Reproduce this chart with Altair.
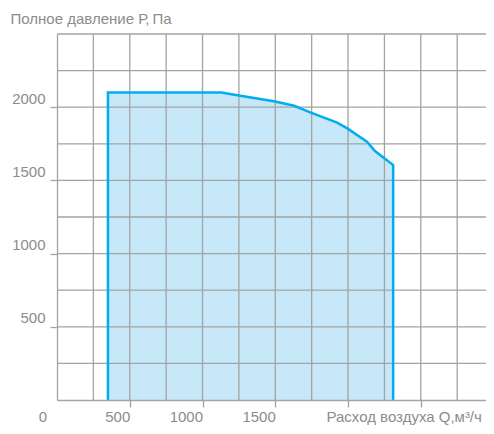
import altair as alt
import pandas as pd

# Curve (boundary of the working area)
Q = [350, 1130, 1250, 1490, 1630, 1740, 1925, 1995, 2130, 2185, 2245, 2310]
P = [2100, 2100, 2080, 2040, 2010, 1965, 1895, 1855, 1765, 1700, 1655, 1605]

x_ticks = [500, 1000, 1500, 2000, 2500]
x_labels = [500, 1000, 1500]
y_ticks = [500, 1000, 1500, 2000]
x_grid = [250, 500, 750, 1000, 1250, 1500, 1750, 2000, 2250, 2500, 2750, 3000]
y_grid = [250, 500, 750, 1000, 1250, 1500, 1750, 2000, 2250, 2500]

X_TITLE = "Расход воздуха Q,м³/ч"
Y_TITLE = "Полное давление Р,\u2009Па"

GRAY = "#a3a3a3"
TXT = "#8c8c8c"
FONT = "Liberation Sans"
FS = 15

area_df = pd.DataFrame({"Q": Q, "P": P})
line_df = pd.DataFrame({
    "Q": [Q[0]] + Q + [Q[-1]],
    "P": [0] + P + [0],
})
line_df["i"] = range(len(line_df))
xg_df = pd.DataFrame({"Q": x_grid})
yg_df = pd.DataFrame({"P": y_grid})
zero_df = pd.DataFrame({"Q": [0], "P": [0], "t": ["0"]})

xs = alt.Scale(domain=[0, 2948], nice=False, zero=True)
ys = alt.Scale(domain=[0, 2500], nice=False, zero=True)

label_expr = "indexof([" + ",".join(str(v) for v in x_labels) + "], datum.value) >= 0 ? datum.value : ''"

x_axis = alt.Axis(
    values=x_ticks, grid=False, labelExpr=label_expr,
    labelAlign="right", labelBaseline="alphabetic", labelPadding=14.5,
    tickSize=7, tickColor=GRAY, tickWidth=1.3,
    domainColor=GRAY, domainWidth=1.3,
    labelFont=FONT, labelFontSize=FS, labelColor=TXT,
    title=X_TITLE, titleX=269, titleY=21.5, titleAlign="left",
    titleBaseline="alphabetic", titleFont=FONT, titleFontSize=FS,
    titleFontWeight="normal", titleColor=TXT, zindex=1,
)
y_axis = alt.Axis(
    values=y_ticks, grid=False, format="d",
    labelAlign="right", labelBaseline="alphabetic", labelOffset=-4, labelPadding=5,
    tickSize=7, tickColor=GRAY, tickWidth=1.3,
    domainColor=GRAY, domainWidth=1.3,
    labelFont=FONT, labelFontSize=FS, labelColor=TXT,
    title=Y_TITLE, titleAngle=0, titleX=-47, titleY=-11, titleAlign="left",
    titleBaseline="alphabetic", titleFont=FONT, titleFontSize=FS,
    titleFontWeight="normal", titleColor=TXT, zindex=1,
)

X = alt.X("Q:Q", scale=xs, axis=x_axis)
Y = alt.Y("P:Q", scale=ys, axis=y_axis)

area = alt.Chart(area_df).mark_area(color="#c6e8f8", opacity=1).encode(x=X, y=Y)

vgrid = alt.Chart(xg_df).mark_rule(color=GRAY, strokeWidth=1.3).encode(x=X)
hgrid = alt.Chart(yg_df).mark_rule(color=GRAY, strokeWidth=1.3).encode(y=Y)

line = alt.Chart(line_df).mark_line(color="#00aeef", strokeWidth=2.5, strokeJoin="miter").encode(
    x=X, y=Y, order="i:Q",
)

zero = alt.Chart(zero_df).mark_text(
    align="right", baseline="alphabetic", dx=-10, dy=21.5,
    font=FONT, fontSize=FS, color=TXT,
).encode(x=X, y=Y, text="t:N")

chart = alt.layer(area, vgrid, hgrid, line, zero).properties(
    width=429, height=366,
    autosize=alt.AutoSizeParams(type="none"),
    padding={"left": 49, "top": 26, "right": 0, "bottom": 26},
    background="white",
).configure_view(stroke=None)

chart.save("out.html", embed_options={"renderer": "svg", "actions": False})
